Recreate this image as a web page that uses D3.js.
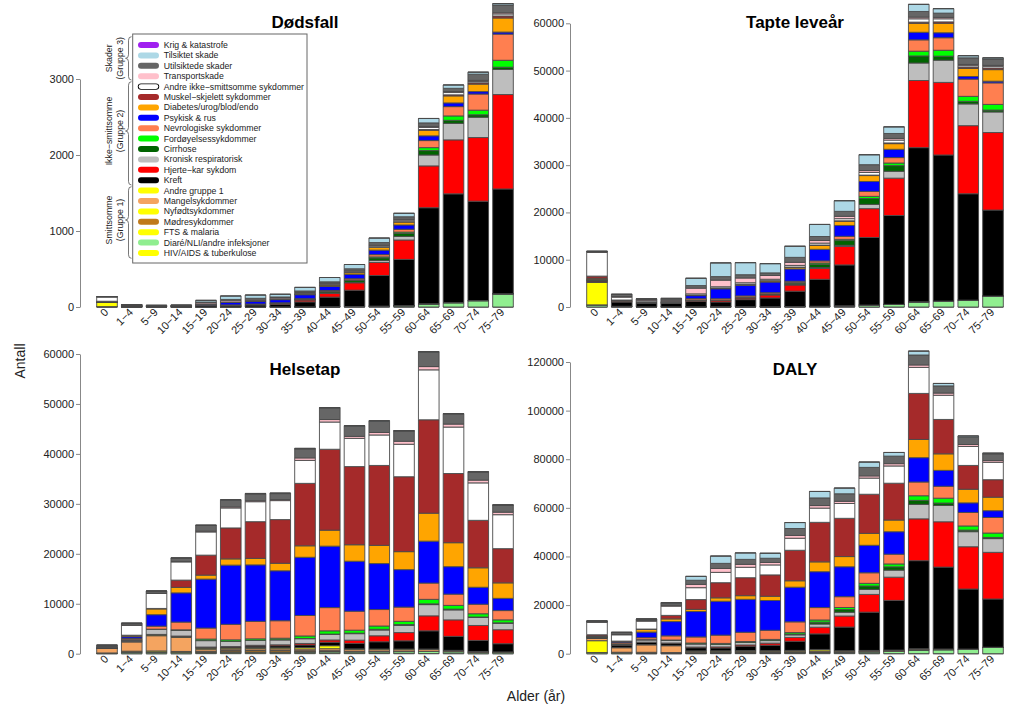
<!DOCTYPE html>
<html><head><meta charset="utf-8">
<script src="https://cdn.jsdelivr.net/npm/d3@7"></script>
<style>
html,body{margin:0;padding:0;background:#fff;}
svg{display:block;font-family:"Liberation Sans",Arial,sans-serif;}
</style></head><body>
<svg id="chart" width="1024" height="709"></svg>
<script>
// ---------- categories (stacking order, bottom -> top) ----------
const ages = ["0","1\u22124","5\u22129","10\u221214","15\u221219","20\u221224","25\u221229","30\u221234","35\u221239","40\u221244","45\u221249","50\u221254","55\u221259","60\u221264","65\u221269","70\u221274","75\u221279"];
const categories = ["HIV/AIDS & tuberkulose","Diaré/NLI/andre infeksjoner","FTS & malaria","Mødresykdommer","Nyfødtsykdommer","Mangelsykdommer","Andre gruppe 1","Kreft","Hjerte\u2212kar sykdom","Kronisk respiratorisk","Cirrhose","Fordøyelsessykdommer","Nevrologiske sykdommer","Psykisk & rus","Diabetes/urog/blod/endo","Muskel\u2212skjelett sykdommer","Andre ikke\u2212smittsomme sykdommer","Transportskade","Utilsiktede skader","Tilsiktet skade","Krig & katastrofe"];
const colors = ["#FFFF00","#90EE90","#FFFF00","#C07A1A","#FFFF00","#F4A460","#FFFF00","#000000","#FF0000","#BEBEBE","#006400","#00FF00","#FF7F50","#0000FF","#FFA500","#A52A2A","#FFFFFF","#FFC0CB","#666666","#ADD8E6","#A020F0"];
const groups = [
  {l1:"Skader", l2:"(Gruppe 3)", y1:36.7, y2:80, yt:58.3},
  {l1:"Ikke\u2212smittsomme", l2:"(Gruppe 2)", y1:81.7, y2:185, yt:131},
  {l1:"Smittsomme", l2:"(Gruppe 1)", y1:186.7, y2:258.3, yt:220}
];

// ---------- values: one row per age group, columns in category order ----------
const dodsfall = [
  [0,5.2,0,0,55.2,0,1.2,1.7,1.7,0.6,0,0.9,1.7,0,2.3,5.2,58.7,0.6,1.7,0,0],
  [0,1.2,0,0,0,0,0.6,10.7,1.2,0.4,0,0,3.0,0,0.6,0,7.1,1.8,5.4,0,0],
  [0,0.4,0,0,0,0,0,10.1,0.6,0,0,0,2.5,0,0,0,3.1,2.5,2.5,0,0],
  [0,0.4,0,0,0,0,0,10.1,1.1,0,0,0,2.0,0.3,0,0,2.0,3.4,3.4,2.0,0],
  [0,0.7,0,0,0,0,0,16.5,2.9,0.4,0,0.4,4.3,9.4,1.4,0.3,3.6,17.3,7.9,22.3,0],
  [0,0.9,0,0,0,0,0,15.5,4.7,0.6,0.2,0.6,4.7,32.6,2.3,0.5,3.9,21.7,11.6,45.0,0],
  [0,1.0,0,0,0,0,0,25.2,5.9,0.8,0.5,0.8,5.0,37.8,3.4,0.7,5.0,16.8,11.7,42.8,0],
  [0,1.1,0,0,0,0,0,33.8,11.9,1.1,1.8,1.1,4.6,41.1,4.6,0.7,5.5,14.6,10.1,35.6,0],
  [0,2.0,0,0,0,0,0,65.3,26.1,2.0,6.0,2.0,6.0,52.2,7.0,1.0,7.0,13.1,21.1,47.2,0],
  [0,3.3,0,0,0,0,0,126.7,51.1,4.4,15.6,5.6,10.0,54.4,18.9,1.3,8.9,12.2,18.9,56.7,0],
  [0,6.2,0,0,0,0,0,215.2,97.0,6.2,24.9,6.2,16.2,57.2,22.4,2.0,11.2,12.4,26.1,56.0,0],
  [0,11.3,0,0,0,0,0,402.8,171.8,25.4,35.2,12.7,29.6,59.2,35.2,2.8,15.5,11.3,35.2,59.2,0],
  [0,17.8,0,0,0,0,0,608.4,255.7,46.9,38.8,17.8,37.2,56.6,38.8,4.9,19.4,11.3,34.0,45.3,0],
  [0,42.6,0,0,0,0,0,1263.6,550.4,143.4,58.1,38.8,93.0,62.0,73.6,9.7,27.1,13.6,46.5,58.1,0],
  [0,57.9,0,0,0,0,0,1430.6,710.6,217.6,39.4,57.9,122.7,48.6,92.6,13.9,30.1,13.9,41.7,44.0,0],
  [0,84.3,0,0,0,0,0,1308.1,837.2,267.4,32.0,61.0,212.2,32.0,98.8,17.4,17.4,14.5,81.4,26.2,0],
  [0,174.2,0,0,0,0,0,1378.8,1242.4,329.5,30.3,90.9,344.7,26.5,185.6,26.5,26.5,15.2,102.3,18.9,0]
];
const tapteLevear = [
  [0,450,0,0,4750,0,100,150,150,50,0,80,150,0,200,450,5050,50,150,0,0],
  [0,100,0,0,0,0,50,900,100,30,0,0,250,0,50,0,600,150,450,0,0],
  [0,30,0,0,0,0,0,800,50,0,0,0,200,0,0,0,250,200,200,0,0],
  [0,30,0,0,0,0,0,750,80,0,0,0,150,20,0,0,150,250,250,150,0],
  [0,50,0,0,0,0,0,1150,200,30,0,30,300,650,100,20,250,1200,550,1550,0],
  [0,60,0,0,0,0,0,1000,300,40,10,40,300,2100,150,30,250,1400,750,2900,0],
  [0,60,0,0,0,0,0,1500,350,50,30,50,300,2250,200,40,300,1000,700,2550,0],
  [0,60,0,0,0,0,0,1850,650,60,100,60,250,2250,250,40,300,800,550,1950,0],
  [0,100,0,0,0,0,0,3250,1300,100,300,100,300,2600,350,50,350,650,1050,2350,0],
  [0,150,0,0,0,0,0,5700,2300,200,700,250,450,2450,850,60,400,550,850,2550,0],
  [0,250,0,0,0,0,0,8650,3900,250,1000,250,650,2300,900,80,450,500,1050,2250,0],
  [0,400,0,0,0,0,0,14300,6100,900,1250,450,1050,2100,1250,100,550,400,1250,2100,0],
  [0,550,0,0,0,0,0,18800,7900,1450,1200,550,1150,1750,1200,150,600,350,1050,1400,0],
  [0,1100,0,0,0,0,0,32600,14200,3700,1500,1000,2400,1600,1900,250,700,350,1200,1500,0],
  [0,1250,0,0,0,0,0,30900,15350,4700,850,1250,2650,1050,2000,300,650,300,900,950,0],
  [0,1450,0,0,0,0,0,22500,14400,4600,550,1050,3650,550,1700,300,300,250,1400,450,0],
  [0,2300,0,0,0,0,0,18200,16400,4350,400,1200,4550,350,2450,350,350,200,1350,250,0]
];
const helsetap = [
  [0,50,0,0,100,900,30,10,0,50,0,0,50,0,50,20,150,0,300,0,0],
  [0,350,0,0,150,1850,100,30,20,250,0,50,250,350,200,100,2000,50,350,0,0],
  [0,350,0,0,200,3050,150,80,30,1000,0,50,600,2300,1150,100,3000,50,450,0,0],
  [0,300,0,0,150,2800,150,80,50,1200,0,50,1550,5850,1100,1450,3650,100,650,50,0],
  [50,250,0,100,100,400,200,150,80,1300,0,300,2200,9800,800,4000,4650,150,1150,50,0],
  [80,250,0,250,50,300,200,200,100,1050,0,300,3100,11850,1250,6200,4000,200,1350,100,0],
  [80,250,0,350,50,300,200,300,150,1000,0,300,3500,11300,1300,7350,4000,200,1350,100,0],
  [80,250,0,300,50,300,200,400,200,1000,20,300,3500,10000,1500,8750,3800,200,1200,100,0],
  [100,250,0,200,50,350,300,500,300,950,50,500,4100,11650,2300,12500,4600,500,1800,100,0],
  [100,300,0,150,50,400,600,700,450,1100,80,650,4650,12300,3200,16200,5450,500,2300,100,0],
  [80,300,0,50,30,350,150,1100,650,1300,100,600,3800,10000,3300,15650,5650,400,2050,100,0],
  [50,350,0,20,20,350,150,1450,1200,1150,150,650,3300,9200,3650,16000,6100,500,2250,100,0],
  [30,400,0,0,0,350,150,1650,1650,1450,150,650,2850,7500,3600,15000,6500,600,2050,100,0],
  [30,450,0,0,0,350,100,3650,3000,2250,150,900,3250,8400,5600,18700,10000,650,2900,100,0],
  [20,400,0,0,0,200,50,2800,3300,2000,150,750,2250,5500,4800,13850,9300,600,2050,50,0],
  [0,300,0,0,0,100,50,2200,3000,1600,100,650,1900,3400,3900,9500,7500,550,1650,30,0],
  [0,250,0,0,0,50,50,1650,2800,1300,80,600,1850,2450,3100,6850,6800,500,1450,20,0]
];
const daly = [
  [0,500,0,0,4850,900,130,160,150,100,0,80,200,0,250,470,5200,50,450,0,0],
  [0,450,0,0,150,1850,150,930,120,280,0,50,500,350,250,100,2600,200,800,0,0],
  [0,380,0,0,200,3050,150,880,80,1000,0,50,800,2300,1150,100,3250,250,650,0,0],
  [0,330,0,0,150,2800,150,830,130,1200,0,50,1700,5870,1100,1450,3800,350,900,200,0],
  [50,300,0,100,100,400,200,1300,280,1330,0,330,2500,10450,900,4020,4900,1350,1700,1600,0],
  [80,310,0,250,50,300,200,1200,400,1090,10,340,3400,13950,1400,6230,4250,1600,2100,3000,0],
  [80,310,0,350,50,300,200,1800,500,1050,30,350,3800,13550,1500,7390,4300,1200,2050,2650,0],
  [80,310,0,300,50,300,200,2250,850,1060,120,360,3750,12250,1750,8790,4100,1000,1750,2050,0],
  [100,350,0,200,50,350,300,3750,1600,1050,350,600,4400,14250,2650,12550,4950,1150,2850,2450,0],
  [100,450,0,150,50,400,600,6400,2750,1300,780,900,5100,14750,4050,16260,5850,1050,3150,2650,0],
  [80,550,0,50,30,350,150,9750,4550,1550,1100,850,4450,12300,4200,15730,6100,900,3100,2350,0],
  [50,750,0,20,20,350,150,15750,7300,2050,1400,1100,4350,11300,4900,16100,6650,900,3500,2200,0],
  [30,950,0,0,0,350,150,20450,9550,2900,1350,1200,4000,9250,4800,15150,7100,950,3100,1500,0],
  [30,1550,0,0,0,350,100,36250,17200,5950,1650,1900,5650,10000,7500,18950,10700,1000,4100,1600,0],
  [20,1650,0,0,0,200,50,33700,18650,6700,1000,2000,4900,6550,6800,14150,9950,900,2950,1000,0],
  [0,1750,0,0,0,100,50,24700,17400,6200,650,1700,5550,3950,5600,9800,7800,800,3050,480,0],
  [0,2550,0,0,0,50,50,19850,19200,5650,480,1800,6400,2800,5550,7200,7150,700,2800,270,0]
];
const ticksDodsfall = [0,1000,2000,3000];
const ticksTapte = [0,10000,20000,30000,40000,50000,60000];
const ticksHelsetap = [0,10000,20000,30000,40000,50000,60000];
const ticksDaly = [0,20000,40000,60000,80000,100000,120000];

// ---------- layout ----------
const panels = [
  {title:"Dødsfall", data:dodsfall, ticks:ticksDodsfall, axisX:80, base:307, topPx:79},
  {title:"Tapte leveår", data:tapteLevear, ticks:ticksTapte, axisX:570, base:307, topPx:23.3},
  {title:"Helsetap", data:helsetap, ticks:ticksHelsetap, axisX:80, base:653.7, topPx:354},
  {title:"DALY", data:daly, ticks:ticksDaly, axisX:570, base:653.7, topPx:362}
];
const svg = d3.select("#chart");
const keys = d3.range(categories.length);
const stack = d3.stack().keys(keys).value((d, k) => d[k]);
const step = 24.75;

panels.forEach(p => {
  const g = svg.append("g");
  const x0 = p.axisX + 16.7;
  const x = d3.scaleBand().domain(ages).range([x0, x0 + step * (ages.length - 1/6)]).paddingInner(1/6).paddingOuter(0);
  const y = d3.scaleLinear().domain([0, p.ticks[p.ticks.length - 1]]).range([p.base, p.topPx]);
  const series = stack(p.data);
  const bw = x.bandwidth();
  g.selectAll("g.layer").data(series).join("g").attr("class","layer")
    .attr("fill", (s, i) => colors[i])
    .selectAll("path").data(s => s.map((d, j) => ({d, age: ages[j]}))).join("path")
    .attr("d", o => {
      const xl = x(o.age), yb = y(o.d[0]), yt = y(o.d[1]);
      return `M${xl},${yt}H${xl + bw}V${yb}H${xl}Z`;
    })
    .attr("stroke", "#4a4a4a").attr("stroke-width", 0.9);

  // y axis
  const ax = g.append("g").attr("transform", `translate(${p.axisX},0)`)
    .call(d3.axisLeft(y).tickValues(p.ticks).tickFormat(d3.format("d")).tickSize(4).tickSizeOuter(0).tickPadding(2));
  ax.select(".domain").attr("stroke", "#888");
  ax.selectAll(".tick line").attr("stroke", "#888");
  ax.selectAll(".tick text").attr("fill", "#222").style("font-size", "11px").style("font-family", "Liberation Sans, Arial, sans-serif");

  // x labels
  g.selectAll("text.xl").data(ages).join("text").attr("class","xl")
    .attr("transform", a => `translate(${x(a) + bw/2 + 2},${p.base + 6}) rotate(-45)`)
    .attr("text-anchor", "end").attr("font-size", 11).attr("fill", "#222").text(a => a);

  // title
  g.append("text").attr("x", p.axisX + 225).attr("y", p.base - 279)
    .attr("text-anchor", "middle").attr("font-size", 17).attr("font-weight", "bold").attr("fill", "#000").text(p.title);
});

// axis titles
svg.append("text").attr("transform", "translate(25,361) rotate(-90)").attr("text-anchor","middle")
  .attr("font-size", 14).attr("fill", "#222").text("Antall");
svg.append("text").attr("x", 536).attr("y", 701).attr("text-anchor","middle")
  .attr("font-size", 14).attr("fill", "#222").text("Alder (år)");

// legend
const lg = svg.append("g");
lg.append("rect").attr("x", 132.7).attr("y", 34).attr("width", 174.3).attr("height", 229)
  .attr("fill", "#fff").attr("stroke", "#666").attr("stroke-width", 1);
const legendItems = keys.slice().reverse();
legendItems.forEach((k, i) => {
  const yc = 45 + 10.4 * i;
  if (colors[k] === "#FFFFFF") {
    lg.append("line").attr("x1", 141).attr("x2", 156).attr("y1", yc).attr("y2", yc)
      .attr("stroke", "#000").attr("stroke-width", 6.4).attr("stroke-linecap", "round");
    lg.append("line").attr("x1", 141).attr("x2", 156).attr("y1", yc).attr("y2", yc)
      .attr("stroke", "#fff").attr("stroke-width", 4.6).attr("stroke-linecap", "round");
  } else {
    lg.append("line").attr("x1", 141).attr("x2", 156).attr("y1", yc).attr("y2", yc)
      .attr("stroke", colors[k]).attr("stroke-width", 6).attr("stroke-linecap", "round");
  }
  lg.append("text").attr("x", 163.7).attr("y", yc).attr("dy", "0.35em")
    .attr("font-size", 8.7).attr("fill", "#222").text(categories[k]);
});
// group braces and labels
function brace(xs, y1, y2, yt) {
  const r = 3.5, w = 3;
  return `M${xs + w},${y1} Q${xs},${y1} ${xs},${y1 + r} L${xs},${yt - r} Q${xs},${yt} ${xs - w},${yt} Q${xs},${yt} ${xs},${yt + r} L${xs},${y2 - r} Q${xs},${y2} ${xs + w},${y2}`;
}
groups.forEach(gr => {
  lg.append("path").attr("d", brace(128.5, gr.y1, gr.y2, gr.yt)).attr("fill", "none")
    .attr("stroke", "#555").attr("stroke-width", 0.8);
  lg.append("text").attr("transform", `translate(111.5,${gr.yt}) rotate(-90)`).attr("text-anchor","middle")
    .attr("font-size", 8.8).attr("fill", "#222").text(gr.l1);
  lg.append("text").attr("transform", `translate(122.5,${gr.yt}) rotate(-90)`).attr("text-anchor","middle")
    .attr("font-size", 8.8).attr("fill", "#222").text(gr.l2);
});
</script>
</body></html>
